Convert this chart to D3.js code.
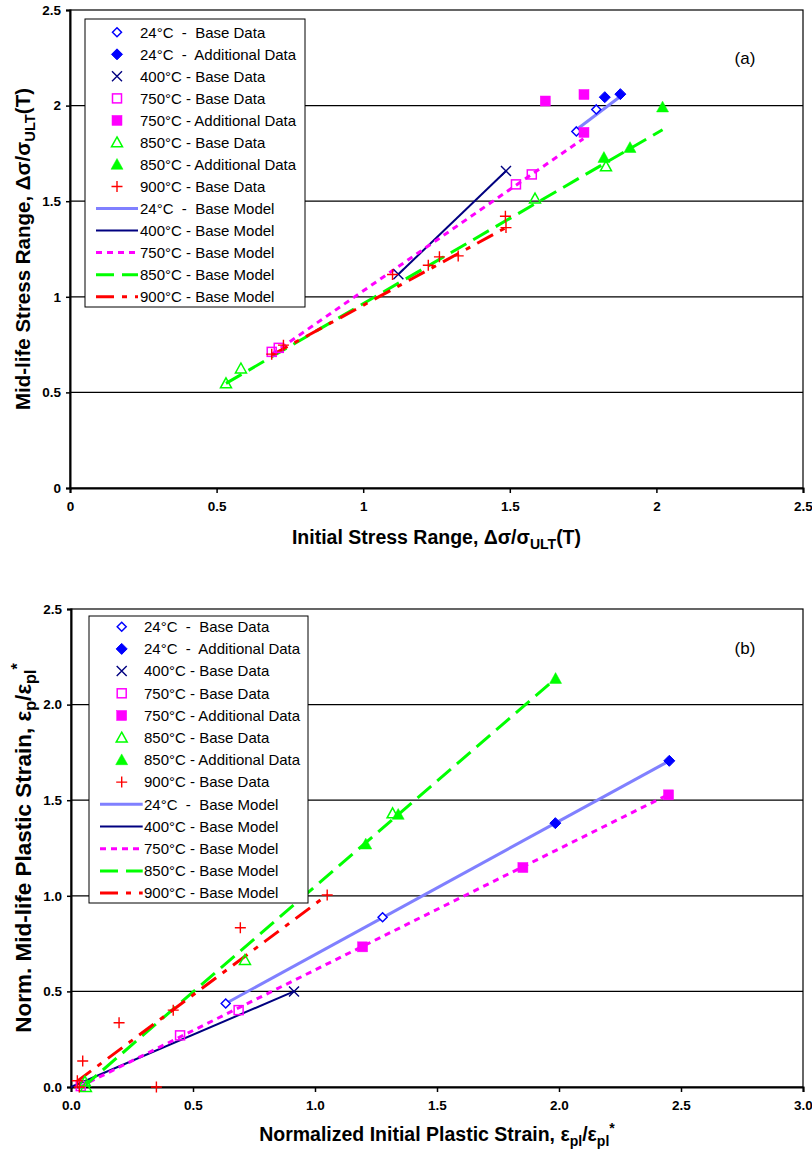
<!DOCTYPE html>
<html>
<head>
<meta charset="utf-8">
<script src="https://cdn.jsdelivr.net/npm/d3@7"></script>
<style>
  body { margin: 0; background: #fff; }
  text { font-family: Arial, "Liberation Sans", sans-serif; }
</style>
</head>
<body>
<svg id="chart" width="812" height="1151"></svg>
<script>
// ---------- Panel (a): stress range ----------
const a24Base   = [[1.727, 1.865], [1.795, 1.98]];
const a24Add    = [[1.824, 2.044], [1.877, 2.06]];
const a400Base  = [[1.12, 1.118], [1.487, 1.658]];
const a750Base  = [[0.688, 0.712], [0.712, 0.733], [1.521, 1.588], [1.575, 1.64]];
const a750Add   = [[1.621, 2.024], [1.753, 2.058], [1.753, 1.86]];
const a850Base  = [[0.532, 0.547], [0.583, 0.625], [1.586, 1.514], [1.828, 1.682]];
const a850Add   = [[1.821, 1.728], [1.91, 1.78], [2.021, 1.992]];
const a900Base  = [[0.688, 0.70], [0.728, 0.747], [1.10, 1.117], [1.222, 1.165],
                   [1.26, 1.209], [1.324, 1.214], [1.485, 1.421], [1.487, 1.362]];
const a24Model  = [[1.728, 1.875], [1.879, 2.05]];
const a400Model = [[1.12, 1.118], [1.487, 1.658]];
const a750Model = [[0.688, 0.70], [1.751, 1.827]];
const a850Model = [[0.532, 0.547], [2.021, 1.874]];
const a900Model = [[0.688, 0.695], [1.487, 1.362]];
const aXTicks = [0, 0.5, 1, 1.5, 2, 2.5];
const aYTicks = [0, 0.5, 1, 1.5, 2, 2.5];

// ---------- Panel (b): plastic strain ----------
const b24Base   = [[0.634, 0.437], [1.277, 0.888]];
const b24Add    = [[1.985, 1.38], [2.452, 1.706]];
const b400Base  = [[0.914, 0.5]];
const b750Base  = [[0.04, 0.005], [0.447, 0.27], [0.687, 0.402]];
const b750Add   = [[1.195, 0.733], [1.852, 1.148], [2.449, 1.528]];
const b850Base  = [[0.057, 0.028], [0.061, 0.0], [0.713, 0.664], [1.318, 1.431]];
const b850Add   = [[1.208, 1.27], [1.341, 1.425], [1.986, 2.136]];
const b900Base  = [[0.026, 0.033], [0.048, 0.136], [0.034, 0.0], [0.197, 0.336],
                   [0.35, 0.0], [0.419, 0.402], [0.694, 0.833], [1.05, 1.004]];
const b24Model  = [[0.634, 0.437], [2.452, 1.706]];
const b400Model = [[0.0, 0.0], [0.914, 0.5]];
const b750Model = [[0.034, 0.0], [2.449, 1.53]];
const b850Model = [[0.05, 0.0], [1.986, 2.136]];
const b900Model = [[0.023, 0.028], [1.05, 1.004]];
const bXTicks = [0, 0.5, 1, 1.5, 2, 2.5, 3];
const bYTicks = [0, 0.5, 1, 1.5, 2, 2.5];

const legendLabels = [
  "24°C  -  Base Data", "24°C  -  Additional Data", "400°C - Base Data",
  "750°C - Base Data", "750°C - Additional Data", "850°C - Base Data",
  "850°C - Additional Data", "900°C - Base Data", "24°C  -  Base Model",
  "400°C - Base Model", "750°C - Base Model", "850°C - Base Model",
  "900°C - Base Model"
];

// ---------- styles ----------
const markerStyles = {
  d24o:  { shape: "diamond",  color: "#0000FF", filled: false },
  d24f:  { shape: "diamond",  color: "#0000FF", filled: true },
  x400:  { shape: "cross",    color: "#000080" },
  s750o: { shape: "square",   color: "#FF00FF", filled: false },
  s750f: { shape: "square",   color: "#FF00FF", filled: true },
  t850o: { shape: "triangle", color: "#00FF00", filled: false },
  t850f: { shape: "triangle", color: "#00FF00", filled: true },
  p900:  { shape: "plus",     color: "#FF0000" }
};
const lineStyles = {
  m24:  { color: "#8080FF", width: 3,   dash: null },
  m400: { color: "#000080", width: 2,   dash: null },
  m750: { color: "#FF00FF", width: 3,   dash: "6,5" },
  m850: { color: "#00FF00", width: 3,   dash: "18,8" },
  m900: { color: "#FF0000", width: 3,   dash: "18,8,5,8" }
};
const markerKeys = ["d24o", "d24f", "x400", "s750o", "s750f", "t850o", "t850f", "p900"];
const lineKeys = ["m24", "m400", "m750", "m850", "m900"];

function drawMarker(g, key, x, y) {
  const s = markerStyles[key];
  if (s.shape === "diamond") {
    const r = s.filled ? 5.5 : 4.5;
    g.append("path")
      .attr("d", `M${x},${y - r}L${x + r},${y}L${x},${y + r}L${x - r},${y}Z`)
      .attr("fill", s.filled ? s.color : "#fff")
      .attr("stroke", s.color).attr("stroke-width", s.filled ? 1 : 1.5);
  } else if (s.shape === "square") {
    const r = s.filled ? 5 : 4.5;
    g.append("rect").attr("x", x - r).attr("y", y - r)
      .attr("width", 2 * r).attr("height", 2 * r)
      .attr("fill", s.filled ? s.color : "none")
      .attr("stroke", s.color).attr("stroke-width", s.filled ? 0.5 : 1.5);
  } else if (s.shape === "triangle") {
    const r = s.filled ? 6 : 5.5;
    g.append("path")
      .attr("d", `M${x},${y - r}L${x + r},${y + r * 0.8}L${x - r},${y + r * 0.8}Z`)
      .attr("fill", s.filled ? s.color : "none")
      .attr("stroke", s.color).attr("stroke-width", s.filled ? 0.5 : 1.5);
  } else if (s.shape === "cross") {
    const r = 5;
    g.append("path")
      .attr("d", `M${x - r},${y - r}L${x + r},${y + r}M${x - r},${y + r}L${x + r},${y - r}`)
      .attr("stroke", s.color).attr("stroke-width", 1.4).attr("fill", "none");
  } else if (s.shape === "plus") {
    const r = 5.5;
    g.append("path")
      .attr("d", `M${x - r},${y}L${x + r},${y}M${x},${y - r}L${x},${y + r}`)
      .attr("stroke", s.color).attr("stroke-width", 1.4).attr("fill", "none");
  }
}

function styleLine(sel, key) {
  const s = lineStyles[key];
  sel.attr("fill", "none").attr("stroke", s.color).attr("stroke-width", s.width);
  if (s.dash) sel.attr("stroke-dasharray", s.dash);
  return sel;
}

// Appends text with sub/superscript runs: parts = [[text, "base"|"sub"|"sup"], ...]
function richText(textSel, parts) {
  let shift = 0;
  parts.forEach(([t, kind]) => {
    const ts = textSel.append("tspan").text(t);
    const target = kind === "sub" ? 5 : kind === "sup" ? -8 : 0;
    if (target !== shift) { ts.attr("dy", target - shift); shift = target; }
    if (kind !== "base") ts.attr("font-size", "0.72em");
  });
}

const svg = d3.select("#chart");
svg.append("rect").attr("width", 812).attr("height", 1151).attr("fill", "#fff");

function drawPanel(cfg) {
  const x = d3.scaleLinear().domain(cfg.xDomain).range([cfg.left, cfg.right]);
  const y = d3.scaleLinear().domain(cfg.yDomain).range([cfg.bottom, cfg.top]);
  const g = svg.append("g");

  // horizontal gridlines
  g.append("g").selectAll("line").data(cfg.yTicks.slice(1, -1)).join("line")
    .attr("x1", cfg.left).attr("x2", cfg.right)
    .attr("y1", d => y(d)).attr("y2", d => y(d))
    .attr("stroke", "#000").attr("stroke-width", 1.2);

  // plot frame
  g.append("rect").attr("x", cfg.left).attr("y", cfg.top)
    .attr("width", cfg.right - cfg.left).attr("height", cfg.bottom - cfg.top)
    .attr("fill", "none").attr("stroke", "#000").attr("stroke-width", 1.2);

  // axes
  const xAxis = d3.axisBottom(x).tickValues(cfg.xTicks).tickFormat(cfg.fmt)
    .tickSize(5).tickPadding(8);
  const yAxis = d3.axisLeft(y).tickValues(cfg.yTicks).tickFormat(cfg.fmt)
    .tickSize(4).tickPadding(5);
  const gx = g.append("g").attr("transform", `translate(0,${cfg.bottom})`).call(xAxis);
  const gy = g.append("g").attr("transform", `translate(${cfg.left},0)`).call(yAxis);
  [gx, gy].forEach(ax => {
    ax.select(".domain").attr("stroke", "#000").attr("stroke-width", 2);
    ax.selectAll(".tick line").attr("stroke", "#000").attr("stroke-width", 1.5);
    ax.selectAll(".tick text").attr("font-size", 13.5).attr("font-weight", "bold")
      .attr("fill", "#000").attr("font-family", "Arial, 'Liberation Sans', sans-serif");
  });

  // model lines
  const line = d3.line().x(d => x(d[0])).y(d => y(d[1]));
  cfg.models.forEach(([key, data]) => {
    styleLine(g.append("path").datum(data).attr("d", line), key);
  });

  // data markers
  cfg.points.forEach(([key, data]) => {
    const mg = g.append("g");
    data.forEach(d => drawMarker(mg, key, x(d[0]), y(d[1])));
  });

  // legend
  const lg = g.append("g");
  lg.append("rect").attr("x", cfg.legend.x).attr("y", cfg.legend.y)
    .attr("width", cfg.legend.w).attr("height", cfg.legend.h)
    .attr("fill", "#fff").attr("stroke", "#000").attr("stroke-width", 1);
  legendLabels.forEach((label, i) => {
    const cy = cfg.legend.row0 + i * cfg.legend.step;
    if (i < markerKeys.length) {
      drawMarker(lg, markerKeys[i], cfg.legend.symX, cy);
    } else {
      styleLine(lg.append("line")
        .attr("x1", cfg.legend.lineX0).attr("x2", cfg.legend.lineX1)
        .attr("y1", cy).attr("y2", cy), lineKeys[i - markerKeys.length]);
    }
    lg.append("text").attr("x", cfg.legend.textX).attr("y", cy + 5.2)
      .attr("font-size", 15).attr("fill", "#000")
      .style("white-space", "pre").text(label);
  });

  // panel tag
  g.append("text").attr("x", cfg.tag.x).attr("y", cfg.tag.y)
    .attr("font-size", 17).attr("text-anchor", "middle").text(cfg.tag.text);

  // axis titles
  const xt = g.append("text").attr("x", (cfg.left + cfg.right) / 2).attr("y", cfg.xTitleY)
    .attr("text-anchor", "middle").attr("font-size", 19.5).attr("font-weight", "bold");
  richText(xt, cfg.xTitle);
  const yt = g.append("text")
    .attr("transform", `translate(${cfg.yTitleX},${(cfg.top + cfg.bottom) / 2}) rotate(-90)`)
    .attr("text-anchor", "middle").attr("font-size", cfg.yTitleSize).attr("font-weight", "bold");
  richText(yt, cfg.yTitle);
}

drawPanel({
  left: 70, right: 803, top: 10, bottom: 488,
  xDomain: [0, 2.5], yDomain: [0, 2.5],
  xTicks: aXTicks, yTicks: aYTicks, fmt: d3.format("~g"),
  models: [["m24", a24Model], ["m400", a400Model], ["m750", a750Model],
           ["m850", a850Model], ["m900", a900Model]],
  points: [["d24o", a24Base], ["d24f", a24Add], ["x400", a400Base],
           ["s750o", a750Base], ["s750f", a750Add], ["t850o", a850Base],
           ["t850f", a850Add], ["p900", a900Base]],
  legend: { x: 85, y: 19, w: 220, h: 288, row0: 32.3, step: 22.03,
            symX: 117, lineX0: 96, lineX1: 138, textX: 140 },
  tag: { x: 745, y: 64, text: "(a)" },
  xTitleY: 544,
  xTitle: [["Initial Stress Range, Δσ/σ", "base"], ["ULT", "sub"], ["(T)", "base"]],
  yTitleX: 30, yTitleSize: 20.5,
  yTitle: [["Mid-life Stress Range, Δσ/σ", "base"], ["ULT", "sub"], ["(T)", "base"]]
});

drawPanel({
  left: 71, right: 803, top: 609, bottom: 1087,
  xDomain: [0, 3], yDomain: [0, 2.5],
  xTicks: bXTicks, yTicks: bYTicks, fmt: d3.format(".1f"),
  models: [["m24", b24Model], ["m400", b400Model], ["m750", b750Model],
           ["m850", b850Model], ["m900", b900Model]],
  points: [["d24o", b24Base], ["d24f", b24Add], ["x400", b400Base],
           ["s750o", b750Base], ["s750f", b750Add], ["t850o", b850Base],
           ["t850f", b850Add], ["p900", b900Base]],
  legend: { x: 89, y: 616, w: 219, h: 287, row0: 626.7, step: 22.2,
            symX: 121.7, lineX0: 100, lineX1: 142.7, textX: 144 },
  tag: { x: 745, y: 654, text: "(b)" },
  xTitleY: 1141,
  xTitle: [["Normalized Initial Plastic Strain, ε", "base"], ["pl", "sub"],
           ["/ε", "base"], ["pl", "sub"], ["*", "sup"]],
  yTitleX: 31, yTitleSize: 22.5,
  yTitle: [["Norm. Mid-life Plastic Strain, ε", "base"], ["p", "sub"],
           ["/ε", "base"], ["pl", "sub"], ["*", "sup"]]
});
</script>
</body>
</html>
